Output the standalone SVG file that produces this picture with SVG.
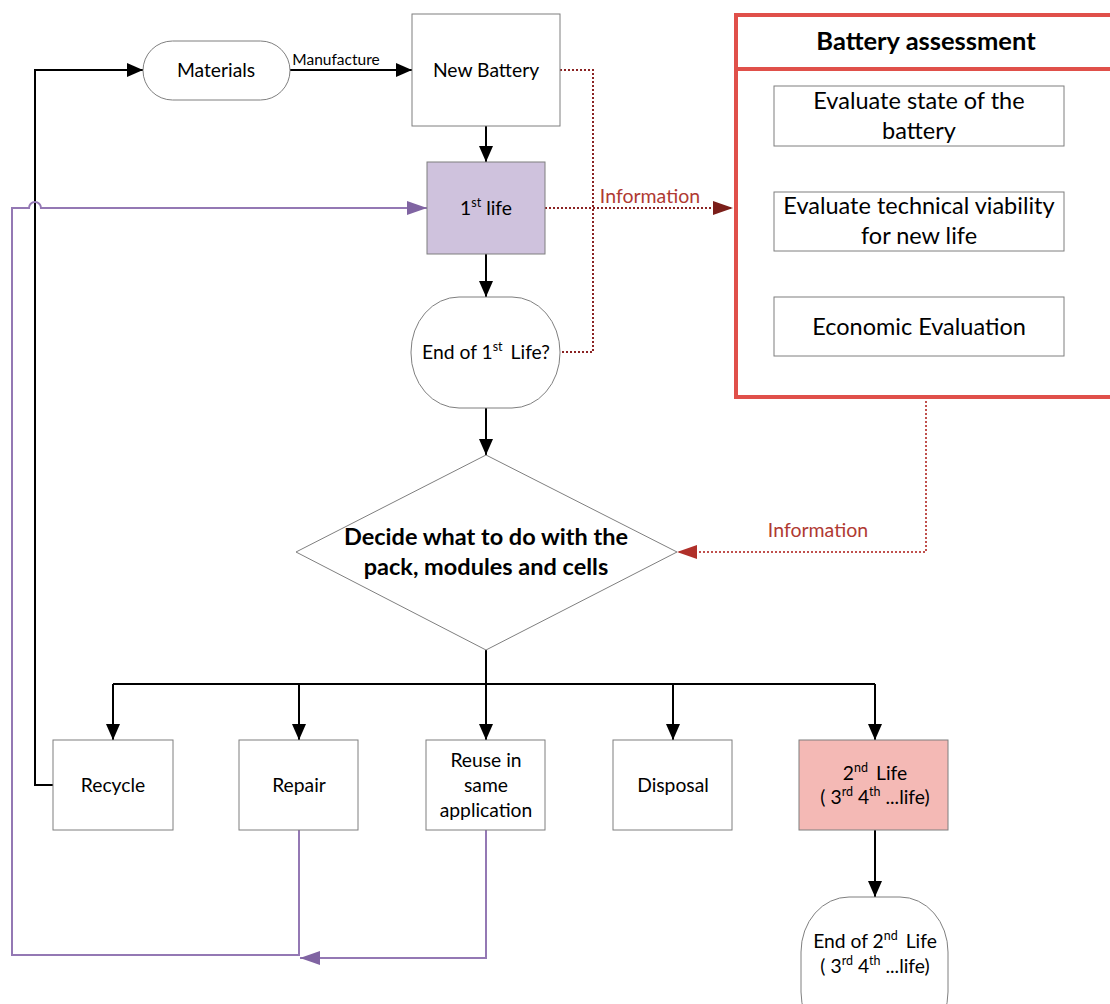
<svg xmlns="http://www.w3.org/2000/svg" width="1110" height="1004" viewBox="0 0 1110 1004">
<defs>
<style>
.t{font-family:Lato,"Liberation Sans",sans-serif;fill:#000;text-anchor:middle}
.m{font-size:19.3px}
.e{font-size:23.5px}
.n{fill:#fff;stroke:#7f7f7f;stroke-width:1}
.c{fill:none;stroke:#000;stroke-width:2}
.p{fill:none;stroke:#9478b4;stroke-width:2}
.d{fill:none;stroke:#8b2323;stroke-width:2;stroke-dasharray:2,2}
.dr{fill:none;stroke:#c0504d;stroke-width:2;stroke-dasharray:2,2}
.info{font-family:Lato,"Liberation Sans",sans-serif;fill:#b03a32;font-size:19.5px;text-anchor:middle}
.sup{font-size:12.5px}
</style>
<marker id="ab" markerWidth="14" markerHeight="12" refX="14" refY="6" orient="auto" markerUnits="userSpaceOnUse"><path d="M0,0 L14,6 L0,12 z" fill="#000"/></marker>
<marker id="abb" markerWidth="16" markerHeight="14" refX="16" refY="7" orient="auto" markerUnits="userSpaceOnUse"><path d="M0,0 L16,7 L0,14 z" fill="#000"/></marker>
<marker id="ap" markerWidth="20" markerHeight="14" refX="20" refY="7" orient="auto" markerUnits="userSpaceOnUse"><path d="M0,0 L20,7 L0,14 z" fill="#8064a2"/></marker>
<marker id="ad" markerWidth="20" markerHeight="14" refX="20" refY="7" orient="auto" markerUnits="userSpaceOnUse"><path d="M0,0 L20,7 L0,14 z" fill="#7b1f1a"/></marker>
<marker id="ar" markerWidth="20" markerHeight="14" refX="20" refY="7" orient="auto" markerUnits="userSpaceOnUse"><path d="M0,0 L20,7 L0,14 z" fill="#b0302a"/></marker>
</defs>
<rect width="1110" height="1004" fill="#fff"/>

<g id="connectors">
<path class="c" d="M290,70 H412" marker-end="url(#abb)"/>
<text x="336" y="65" class="t" style="font-size:15.5px">Manufacture</text>
<path class="c" d="M486,126 V162" marker-end="url(#abb)"/>
<path class="c" d="M486,254 V297" marker-end="url(#abb)"/>
<path class="c" d="M486,408 V455" marker-end="url(#abb)"/>
<path class="c" d="M486,650 V684"/>
<path class="c" d="M113,684 H875"/>
<path class="c" d="M113,684 V740" marker-end="url(#abb)"/>
<path class="c" d="M299,684 V740" marker-end="url(#abb)"/>
<path class="c" d="M486,684 V740" marker-end="url(#abb)"/>
<path class="c" d="M673,684 V740" marker-end="url(#abb)"/>
<path class="c" d="M875,684 V740" marker-end="url(#abb)"/>
<path class="c" d="M875,830 V897" marker-end="url(#abb)"/>
<path class="c" d="M53,785 H35 V70 H143" marker-end="url(#abb)"/>
<path class="c" style="stroke-width:1.5" d="M919,146 V192" marker-end="url(#ab)"/>
<path class="c" style="stroke-width:1.5" d="M919,251 V297" marker-end="url(#ab)"/>
<path class="p" d="M299,830 V955 H12 V208 H29 A6,6 0 0 1 41,208 H427" marker-end="url(#ap)"/>
<path class="p" d="M486,830 V958 H300" marker-end="url(#ap)"/>
<path class="d" d="M560,70 H593 V352 H560"/>
<path class="d" d="M545,208 H733" marker-end="url(#ad)"/>
<text x="650" y="203" class="info">Information</text>
<path class="dr" d="M926,397 V552 H677" marker-end="url(#ar)"/>
<text x="818" y="537" class="info">Information</text>
</g>

<g id="materials">
<rect class="n" x="143" y="41" width="147" height="59" rx="29.5" ry="29.5"/>
<text x="216" y="77" class="t m">Materials</text>
</g>
<g id="new-battery">
<rect class="n" x="412" y="14" width="148" height="112"/>
<text x="486" y="77" class="t m">New Battery</text>
</g>
<g id="first-life">
<rect class="n" x="427" y="162" width="118" height="92" style="fill:#cfc2dd"/>
<text x="486" y="215" class="t m">1<tspan class="sup" dy="-8">st</tspan><tspan dy="8" dx="5">life</tspan></text>
</g>
<g id="end-first-life">
<rect class="n" x="411" y="297" width="149" height="111" rx="48" ry="55"/>
<text x="486" y="359" class="t m">End of 1<tspan class="sup" dy="-8">st</tspan><tspan dy="8" dx="8">Life?</tspan></text>
</g>
<g id="decide">
<path class="n" d="M486,455 L677,552 L486,650 L296,552 z"/>
<text x="486" y="545" class="t" style="font-size:23.5px;font-weight:bold">Decide what to do with the</text>
<text x="486" y="575" class="t" style="font-size:23.5px;font-weight:bold">pack, modules and cells</text>
</g>
<g id="assessment">
<rect x="736" y="15" width="380" height="382" fill="#fff" stroke="#e0504a" stroke-width="4"/>
<path d="M736,69 H1112" stroke="#e0504a" stroke-width="4"/>
<text x="926" y="50" class="t" style="font-size:25.5px;font-weight:bold">Battery assessment</text>
</g>
<g id="eval-state">
<rect class="n" x="774" y="86" width="290" height="60"/>
<text x="919" y="109" class="t e">Evaluate state of the</text>
<text x="919" y="139" class="t e">battery</text>
</g>
<g id="eval-tech">
<rect class="n" x="774" y="192" width="290" height="59"/>
<text x="919" y="214" class="t e">Evaluate technical viability</text>
<text x="919" y="244" class="t e">for new life</text>
</g>
<g id="eval-econ">
<rect class="n" x="774" y="297" width="290" height="59"/>
<text x="919" y="335" class="t e">Economic Evaluation</text>
</g>
<g id="recycle">
<rect class="n" x="53" y="740" width="120" height="90"/>
<text x="113" y="792" class="t m">Recycle</text>
</g>
<g id="repair">
<rect class="n" x="239" y="740" width="119" height="90"/>
<text x="299" y="792" class="t m">Repair</text>
</g>
<g id="reuse">
<rect class="n" x="426" y="740" width="119" height="90"/>
<text x="486" y="767" class="t m">Reuse in</text>
<text x="486" y="792" class="t m">same</text>
<text x="486" y="817" class="t m">application</text>
</g>
<g id="disposal">
<rect class="n" x="613" y="740" width="119" height="90"/>
<text x="673" y="792" class="t m">Disposal</text>
</g>
<g id="second-life">
<rect class="n" x="799" y="740" width="149" height="90" style="fill:#f4b9b5"/>
<text x="875" y="780" class="t m">2<tspan class="sup" dy="-8">nd</tspan><tspan dy="8" dx="8">Life</tspan></text>
<text x="875" y="804" class="t m">( 3<tspan class="sup" dy="-8">rd</tspan><tspan dy="8"> 4</tspan><tspan class="sup" dy="-8">th</tspan><tspan dy="8"> ...life)</tspan></text>
</g>
<g id="end-second-life">
<rect class="n" x="801" y="897" width="147" height="150" rx="48" ry="55"/>
<text x="875" y="948" class="t m">End of 2<tspan class="sup" dy="-8">nd</tspan><tspan dy="8" dx="8">Life</tspan></text>
<text x="875" y="973" class="t m">( 3<tspan class="sup" dy="-8">rd</tspan><tspan dy="8"> 4</tspan><tspan class="sup" dy="-8">th</tspan><tspan dy="8"> ...life)</tspan></text>
</g>
</svg>
